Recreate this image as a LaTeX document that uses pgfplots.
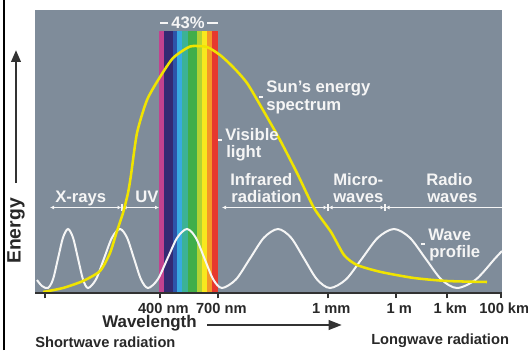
\documentclass[border=0pt]{standalone}
\usepackage{fontspec}
\setmainfont{Liberation Sans}
\usepackage{pgfplots}
\pgfplotsset{compat=1.18}
\usetikzlibrary{arrows.meta}
\definecolor{bgc}{RGB}{127,140,154}
\definecolor{txtdark}{RGB}{40,40,40}
\definecolor{axdark}{RGB}{50,50,50}
\definecolor{sunyellow}{RGB}{240,228,0}
\definecolor{wavewhite}{RGB}{245,245,245}
\definecolor{cmag}{RGB}{194,66,143}
\definecolor{cind}{RGB}{52,42,115}
\definecolor{cblue}{RGB}{45,85,170}
\definecolor{ccyan}{RGB}{56,170,225}
\definecolor{cteal}{RGB}{60,178,150}
\definecolor{cgreen}{RGB}{64,174,74}
\definecolor{cyg}{RGB}{178,210,52}
\definecolor{cyel}{RGB}{248,232,30}
\definecolor{corange}{RGB}{244,150,40}
\definecolor{cred}{RGB}{230,56,46}
\newcommand{\inlbl}{\bfseries\fontsize{12.5}{14}\selectfont}
\tikzset{lbl/.style={anchor=base west, inner sep=0pt, text=wavewhite, font=\inlbl},
         olbl/.style={inner sep=0pt, text=txtdark}}
\begin{document}
\begin{tikzpicture}
\begin{axis}[
  x=0.75pt, y=0.75pt,
  xmin=-1, xmax=466, ymin=0, ymax=283,
  axis x line=bottom, axis y line=none,
  x axis line style={-, draw=axdark, line width=1.2pt},
  axis background/.style={fill=bgc},
  axis on top,
  clip=false,
  xtick={9,124,182,292,360,411,465},
  xticklabels={{},400 nm,700 nm,1 mm,1 m,1 km,100 km},
  tick align=outside, major tick length=4pt,
  tick style={draw=axdark, line width=1pt},
  xticklabel style={font=\bfseries\fontsize{11}{13}\selectfont, text=txtdark, xshift=2.5pt},
  ytick=\empty,
]
% region line
\draw[wavewhite, line width=0.8pt, {Latex[length=3pt,width=3pt]}-{Latex[length=3pt,width=3pt]}] (axis cs:14,85.5) -- (axis cs:85.5,85.5);
\draw[wavewhite, line width=0.8pt, {Latex[length=3pt,width=3pt]}-{Latex[length=3pt,width=3pt]}] (axis cs:86.5,85.5) -- (axis cs:123,85.5);
\draw[wavewhite, line width=0.8pt, {Latex[length=3pt,width=3pt]}-{Latex[length=3pt,width=3pt]}] (axis cs:186,85.5) -- (axis cs:291.5,85.5);
\draw[wavewhite, line width=0.8pt, {Latex[length=3pt,width=3pt]}-{Latex[length=3pt,width=3pt]}] (axis cs:292.5,85.5) -- (axis cs:348.5,85.5);
\draw[wavewhite, line width=0.8pt, {Latex[length=3pt,width=3pt]}-] (axis cs:349.5,85.5) -- (axis cs:466,85.5);
\draw[wavewhite, line width=0.8pt] (axis cs:86,82) -- (axis cs:86,89);
\draw[wavewhite, line width=0.8pt] (axis cs:292,82) -- (axis cs:292,89);
\draw[wavewhite, line width=0.8pt] (axis cs:349,82) -- (axis cs:349,89);
% visible band
\addplot[draw=none, fill=cmag] coordinates {(123,262) (128.3,262)} \closedcycle;
\addplot[draw=none, fill=cind] coordinates {(128.3,262) (137.3,262)} \closedcycle;
\addplot[draw=none, fill=cblue] coordinates {(137.3,262) (141.3,262)} \closedcycle;
\addplot[draw=none, fill=ccyan] coordinates {(141.3,262) (145.7,262)} \closedcycle;
\addplot[draw=none, fill=cteal] coordinates {(145.7,262) (152.3,262)} \closedcycle;
\addplot[draw=none, fill=cgreen] coordinates {(152.3,262) (160.7,262)} \closedcycle;
\addplot[draw=none, fill=cyg] coordinates {(160.7,262) (165.7,262)} \closedcycle;
\addplot[draw=none, fill=cyel] coordinates {(165.7,262) (171.3,262)} \closedcycle;
\addplot[draw=none, fill=corange] coordinates {(171.3,262) (175.7,262)} \closedcycle;
\addplot[draw=none, fill=cred] coordinates {(175.7,262) (182.3,262)} \closedcycle;
% wave profile
\addplot[wavewhite, line width=1.5pt, smooth, tension=0.5, mark=none] coordinates {
 (1,13) (6,7) (12,5) (17,13.6) (22,34.5) (27,55.4) (32,64) (37,55.4) (42,34.5) (47,13.6)
 (52,5) (60,13.6) (68,34.5) (76,55.4) (84,64) (91,55.4) (98,34.5) (105,13.6) (112,5)
 (121.75,13.6) (131.5,34.5) (141.25,55.4) (151,64) (159.75,55.4) (168.5,34.5) (177.25,13.6)
 (186,5) (200,13.6) (214,34.5) (228,55.4) (242,64) (255,55.4) (268,34.5) (281,13.6)
 (294,5) (310,13.6) (326,34.5) (342,55.4) (358,64) (373.75,55.4) (389.5,34.5) (405.25,13.6)
 (421,5) (440,13.6) (459,34.5) (466,42)};
% sun's energy spectrum
\addplot[sunyellow, line width=1.9pt, smooth, tension=0.4, mark=none] coordinates {
 (7,1) (27,5) (47,12) (64,22) (74,40) (81,62) (87,80) (92,100) (95,118) (101,160)
 (111,193) (124,216) (137,235) (151,245) (157,247) (171,246) (184,238) (197,226)
 (211,210) (227,183) (244,153) (261,120) (278,85) (295,61) (308,38) (321,28)
 (345,21) (378,15) (411,12) (451,11)};
% labels inside
\node[lbl] at (axis cs:230,200) {Sun's energy};
\node[lbl] at (axis cs:230,183) {spectrum};
\draw[wavewhite, line width=0.8pt] (axis cs:223,196) -- (axis cs:227,196);
\node[lbl] at (axis cs:189,153) {Visible};
\node[lbl] at (axis cs:190,136) {light};
\draw[wavewhite, line width=0.8pt] (axis cs:182,153) -- (axis cs:186,153);
\node[lbl] at (axis cs:194,108) {Infrared};
\node[lbl] at (axis cs:195,91) {radiation};
\node[lbl] at (axis cs:297,108) {Micro-};
\node[lbl] at (axis cs:297,91) {waves};
\node[lbl] at (axis cs:390,108) {Radio};
\node[lbl] at (axis cs:391,91) {waves};
\node[lbl] at (axis cs:19,91) {X-rays};
\node[lbl] at (axis cs:99,91) {UV};
\node[lbl] at (axis cs:392,53) {Wave};
\node[lbl] at (axis cs:393,36) {profile};
\draw[wavewhite, line width=0.8pt] (axis cs:385,49) -- (axis cs:389,49);
\node[inner sep=0pt, text=wavewhite, font=\inlbl] at (axis cs:152,270) {43\%};
\draw[wavewhite, line width=1pt] (axis cs:124,270) -- (axis cs:132,270);
\draw[wavewhite, line width=1pt] (axis cs:171,270) -- (axis cs:182,270);
% outside labels
\node[olbl, font=\bfseries\fontsize{12.7}{15}\selectfont] at (axis cs:113.5,-30) {Wavelength};
\draw[axdark, line width=2pt, -{Triangle[length=10pt,width=7pt]}] (axis cs:171,-32) -- (axis cs:306,-32);
\node[olbl, anchor=west, font=\bfseries\fontsize{11}{13}\selectfont] at (axis cs:-1,-49) {Shortwave radiation};
\node[olbl, anchor=west, font=\bfseries\fontsize{11}{13}\selectfont] at (axis cs:335,-48) {Longwave radiation};
\node[olbl, rotate=90, font=\bfseries\fontsize{14.5}{16}\selectfont] at (axis cs:-20,62) {Energy};
\draw[axdark, line width=2pt, -{Triangle[length=9pt,width=7pt]}] (axis cs:-20,110) -- (axis cs:-20,243);
\draw[black, line width=1.6pt] (axis cs:-32,-57) -- (axis cs:-32,293);
\coordinate (bl) at (axis cs:-36,-57);
\coordinate (tr) at (axis cs:492,293);
\end{axis}
\pgfresetboundingbox
\path[use as bounding box] (bl) rectangle (tr);
\end{tikzpicture}
\end{document}
